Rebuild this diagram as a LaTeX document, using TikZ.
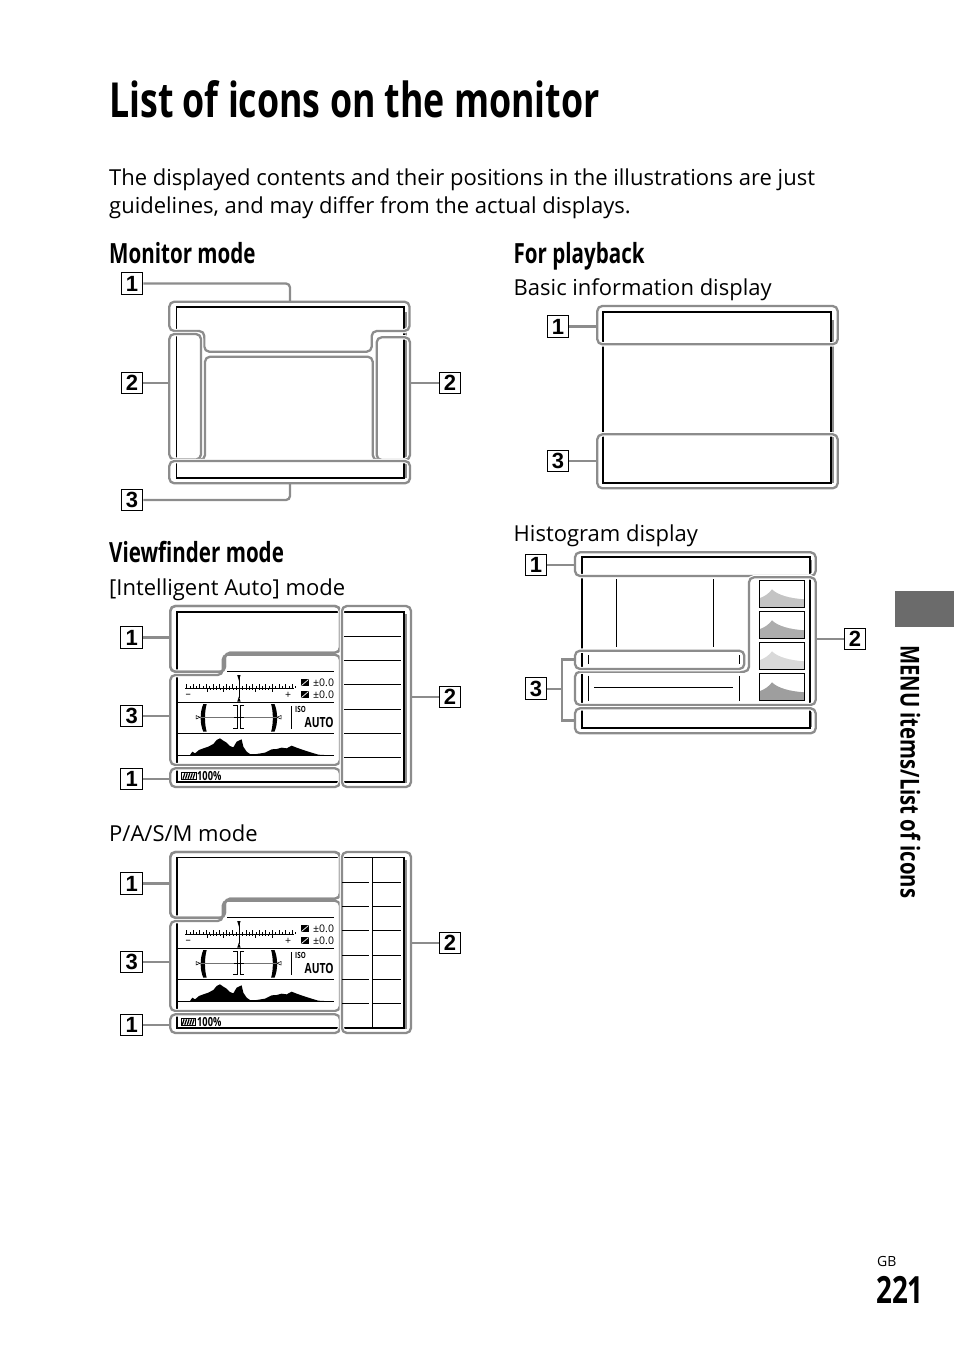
\documentclass[tikz,border=0pt]{standalone}
\usepackage{fontspec}
\setmainfont{Open Sans}
\newfontfamily\headfont[FakeStretch=0.74]{Open Sans}
\newfontfamily\sidefont[FakeStretch=0.78]{Open Sans}
\newfontfamily\labelfont{Liberation Sans}
\usetikzlibrary{calc}
\tikzset{
  numbox/.style={draw=black,line width=1pt,minimum size=21.5pt,inner sep=0pt,fill=white,font=\labelfont\bfseries\fontsize{22}{22}\selectfont},
  outlinebare/.style={draw=outlinegray,line width=2.3pt,rounded corners=5pt,line join=round},
  outline/.style={outlinebare,preaction={draw=white,line width=4.5pt}},
  connector/.style={draw=outlinegray,line width=2.3pt,rounded corners=4pt},
  frameline/.style={draw=black,line width=2pt},
  shadowline/.style={draw=shadowgray,line width=2pt},
  thinline/.style={draw=black,line width=1pt},
  titletext/.style={anchor=base west,inner sep=0pt,font=\headfont\bfseries\fontsize{48.3}{48.3}\selectfont},
  headtext/.style={anchor=base west,inner sep=0pt,font=\headfont\bfseries\fontsize{27.8}{27.8}\selectfont},
  bodytext/.style={anchor=base west,inner sep=0pt,font=\fontsize{22}{22}\selectfont},
  tinytext/.style={anchor=base west,inner sep=0pt,font=\fontsize{10.5}{10.5}\selectfont},
  tinybold/.style={anchor=base west,inner sep=0pt,font=\headfont\bfseries\fontsize{14}{14}\selectfont}
}
\newcommand{\finderpanel}{%
\draw[outline] (170.3,606) -- (340,606) -- (340,652.7) -- (225,652.7) -- (225,671.7) -- (170.3,671.7) -- cycle;
\draw[outline] (170.3,675) -- (222.7,675) -- (222.7,654.7) -- (340,654.7) -- (340,765) -- (170.3,765) -- cycle;
\draw[outlinebare] (170.3,606) -- (340,606) -- (340,652.7) -- (225,652.7) -- (225,671.7) -- (170.3,671.7) -- cycle;
\draw[outline] (170.3,768.3) rectangle (340,787);
\draw[outline] (341.9,606) rectangle (411,787);
\draw[thinline] (227.3,671.3) -- (334,671.3);
\draw[thinline] (177.7,702.3) -- (334,702.3);
\draw[thinline] (177.7,733) -- (334,733);
\draw[thinline] (177.7,755.3) -- (334,755.3);
\draw[line width=0.8pt] (185,688) -- (294,688);
\foreach \i in {-8,...,8} {
  \draw[line width=0.5pt] ({239.3+\i*6.6},688) -- ({239.3+\i*6.6},684);
  \draw[line width=0.5pt] ({242.6+\i*6.6},688) -- ({242.6+\i*6.6},686.2);
}
\foreach \i in {-10,...,10} {
  \draw[line width=0.5pt] ({239.3+\i*3.25},688) -- ({239.3+\i*3.25},690);
}
\foreach \i in {-10,-5,0,5,10} {
  \draw[line width=0.5pt] ({239.3+\i*3.25},688) -- ({239.3+\i*3.25},692);
}
\draw[line width=0.6pt] (238.9,678) -- (238.9,698);
\fill (237.2,675) -- (240.6,675) -- (238.9,680.5) -- cycle;
\fill (237.2,701.7) -- (240.6,701.7) -- (238.9,696.5) -- cycle;
\node[tinytext] (minussign) at (185.5,697.5) {--};
\node[tinytext] (plussign) at (285,698) {+};
\fill (301,679) rectangle (309,686);
\draw[white,line width=0.7pt] (301.5,685.5) -- (308.5,679.5);
\fill (301,691) rectangle (309,698);
\draw[white,line width=0.7pt] (301.5,697.5) -- (308.5,691.5);
\node[tinytext] (evone) at (313,686) {±0.0};
\node[tinytext] (evtwo) at (313,698.5) {±0.0};
\fill (203.3,704) .. controls (199.8,712) and (199.8,724) .. (203.3,731.7) -- (206.7,731.7) .. controls (204.4,724) and (204.4,712) .. (206.7,704) -- cycle;
\fill (274.5,704) .. controls (278,712) and (278,724) .. (274.5,731.7) -- (271.1,731.7) .. controls (273.4,724) and (273.4,712) .. (271.1,704) -- cycle;
\draw[draw=graphgray,line width=0.8pt] (199,717.3) -- (277,717.3);
\draw[line width=0.6pt] (233,705.5) -- (237.7,705.5) -- (237.7,728.5) -- (233,728.5);
\draw[line width=0.6pt] (244,705.5) -- (240.3,705.5) -- (240.3,728.5) -- (244,728.5);
\draw[line width=1.6pt] (233.5,717.3) -- (243.5,717.3);
\draw[line width=0.5pt,fill=white] (200,717.3) -- (196,715.5) -- (196,719) -- cycle;
\draw[line width=0.5pt,fill=white] (277,717.3) -- (281,715.5) -- (281,719) -- cycle;
\draw[thinline] (291.3,706) -- (291.3,729.3);
\node[anchor=base west,inner sep=0pt,font=\headfont\bfseries\fontsize{8.5}{8.5}\selectfont] (isolabel) at (295,712.7) {ISO};
\node[tinybold] (autolabel) at (304.5,727.2) {AUTO};
\fill[shift={(175,670)},x=0.3333pt,y=-0.3333pt] (42,256) -- (45,255) -- (52,245) -- (60,250) -- (72,240) -- (85,235) -- (100,230) -- (115,222) -- (125,210) -- (135,205) -- (145,212) -- (155,218) -- (165,228) -- (175,232) -- (185,215) -- (200,208) -- (205,230) -- (215,245) -- (225,252) -- (245,252) -- (270,248) -- (290,238) -- (305,237) -- (320,233) -- (335,235) -- (350,227) -- (365,233) -- (385,240) -- (410,248) -- (430,254) -- (465,256) -- cycle;
}
\begin{document}
\begin{tikzpicture}[line cap=butt,x=1pt,y=-1pt]
\definecolor{outlinegray}{rgb}{0.55,0.55,0.55}
\definecolor{shadowgray}{rgb}{0.55,0.55,0.55}
\definecolor{graphgray}{rgb}{0.45,0.45,0.45}
\definecolor{tabgray}{rgb}{0.42,0.42,0.42}
\definecolor{thumba}{rgb}{0.77,0.77,0.77}
\definecolor{thumbb}{rgb}{0.68,0.68,0.68}
\definecolor{thumbc}{rgb}{0.85,0.85,0.85}
\definecolor{thumbd}{rgb}{0.62,0.62,0.62}
\useasboundingbox (0,0) rectangle (954,1345);
\node[titletext] (title) at (109,117) {List of icons on the monitor};
\node[bodytext] (introa) at (109,185) {The displayed contents and their positions in the illustrations are just};
\node[bodytext] (introb) at (109,213) {guidelines, and may differ from the actual displays.};
\node[headtext] (monitorhead) at (109,263) {Monitor mode};
\node[headtext] (finderhead) at (109,562) {Viewfinder mode};
\node[headtext] (playhead) at (513.5,263) {For playback};
\node[bodytext] (autohead) at (109,595) {[Intelligent Auto] mode};
\node[bodytext] (pasmhead) at (109,841) {P/A/S/M mode};
\node[bodytext] (basichead) at (513.5,295) {Basic information display};
\node[bodytext] (histhead) at (513.5,541) {Histogram display};
%
\draw[shadowline] (405.8,312) -- (405.8,478);
\draw[frameline] (176.7,306.7) -- (404,306.7) -- (404,478) -- (176.7,478);
\draw[thinline] (176.7,306) -- (176.7,478.5);
\draw[outline] (169.3,301.7) -- (409.5,301.7) -- (409.5,331) -- (371.7,331) -- (371.7,351.7) -- (204.3,351.7) -- (204.3,331) -- (169.3,331) -- cycle;
\draw[outline] (169.3,334) rectangle (201,459.5);
\draw[outline] (376.7,337.3) rectangle (410,460);
\draw[outlinebare] (198,460) -- (205,460) -- (205,356.7) -- (372.7,356.7) -- (372.7,460) -- (380,460);
\draw[outline] (169.3,461) rectangle (410,483.3);
\node[numbox] (monone) at (132,283.5) {1};
\node[numbox] (montwoa) at (132,383) {2};
\node[numbox] (montwob) at (450,383) {2};
\node[numbox] (monthree) at (132,500) {3};
\coordinate (monoutlinea) at (290,301);
\coordinate (monoutlineb) at (169.3,383);
\coordinate (monoutlinec) at (410,383);
\coordinate (monoutlined) at (290,484);
\draw[connector] (monone.east) -| (monoutlinea);
\draw[connector] (montwoa.east) -- (monoutlineb);
\draw[connector] (montwob.west) -- (monoutlinec);
\draw[connector] (monthree.east) -| (monoutlined);
%
\draw[shadowline] (406.3,614) -- (406.3,783);
\draw[frameline] (176.7,611.7) -- (404.3,611.7) -- (404.3,781.7) -- (176.7,781.7) -- cycle;
\finderpanel
\foreach \y in {636,660.3,684.7,709,733,757} {
  \draw[thinline] (344.3,\y) -- (400.7,\y);
}
\draw[line width=0.6pt,fill=white] (181.7,772.7) rectangle (196,779.3);
\foreach \x in {183,185.5,188,190.5,193} {
  \draw[line width=1.2pt] (\x,778.7) -- (\x+1.8,773.3);
}
\node[tinybold,font=\headfont\bfseries\fontsize{12.5}{12.5}\selectfont] (autobatt) at (197,780.5) {100\%};
\node[numbox] (autoone) at (131.7,637.5) {1};
\node[numbox] (autothree) at (131.7,716) {3};
\node[numbox] (autofour) at (131.7,779) {1};
\node[numbox] (autotwo) at (450,697) {2};
\coordinate (autoa) at (170.3,637.5);
\coordinate (autob) at (170.3,716);
\coordinate (autoc) at (170.3,779);
\coordinate (autod) at (411,697);
\draw[connector] (autoone.east) -- (autoa);
\draw[connector] (autothree.east) -- (autob);
\draw[connector] (autofour.east) -- (autoc);
\draw[connector] (autotwo.west) -- (autod);
%
\begin{scope}[shift={(0,246)}]
\draw[shadowline] (406.3,614) -- (406.3,783);
\draw[thinline] (176.7,611.7) -- (404.3,611.7);
\draw[frameline] (404.3,611.2) -- (404.3,781.7) -- (176.7,781.7) -- (176.7,611.2);
\finderpanel
\draw[thinline] (372.7,612) -- (372.7,781);
\foreach \y in {636,660.3,684.7,709,733,757} {
  \draw[thinline] (342.3,\y) -- (369,\y);
  \draw[thinline] (373.3,\y) -- (400.7,\y);
}
\draw[line width=0.6pt,fill=white] (181,772.7) rectangle (195,779.3);
\foreach \x in {182.3,184.8,187.3,189.8,192.3} {
  \draw[line width=1.2pt] (\x,778.7) -- (\x+1.8,773.3);
}
\node[tinybold,font=\headfont\bfseries\fontsize{12.5}{12.5}\selectfont] (pasmbatt) at (197,780.5) {100\%};
\node[numbox] (pasmone) at (131.7,637.5) {1};
\node[numbox] (pasmthree) at (131.7,716) {3};
\node[numbox] (pasmfour) at (131.7,779) {1};
\node[numbox] (pasmtwo) at (450,697) {2};
\coordinate (pasma) at (170.3,637.5);
\coordinate (pasmb) at (170.3,716);
\coordinate (pasmc) at (170.3,779);
\coordinate (pasmd) at (411,697);
\draw[connector] (pasmone.east) -- (pasma);
\draw[connector] (pasmthree.east) -- (pasmb);
\draw[connector] (pasmfour.east) -- (pasmc);
\draw[connector] (pasmtwo.west) -- (pasmd);
\end{scope}
%
\draw[shadowline] (832.7,320) -- (832.7,483);
\draw[frameline] (603.3,312.3) rectangle (831,483.3);
\draw[outline] (597.3,306) rectangle (837.7,344.3);
\draw[outline] (597.3,434.3) rectangle (837.7,488.3);
\node[numbox] (basicone) at (558,326.5) {1};
\node[numbox] (basicthree) at (558,461) {3};
\coordinate (basica) at (597.3,326.5);
\coordinate (basicb) at (597.3,461);
\draw[connector] (basicone.east) -- (basica);
\draw[connector] (basicthree.east) -- (basicb);
%
\draw[shadowline] (811,560) -- (811,573);
\draw[shadowline] (811.3,712) -- (811.3,727);
\draw[frameline] (581.7,557.3) rectangle (809.5,727.7);
\draw[thinline] (616,579) -- (616,647.3);
\draw[thinline] (713.3,579) -- (713.3,647.3);
\draw[outline] (575,552.3) rectangle (815.7,576);
\draw[outline] (749,577.3) -- (815.7,577.3) -- (815.7,705) -- (575,705) -- (575,671.7) -- (749,671.7) -- cycle;
\draw[outline] (575,650.7) rectangle (744.3,669);
\draw[outline] (575,708.3) rectangle (815.7,733.3);
\draw[frameline] (581.7,655) -- (581.7,664);
\draw[thinline] (588.3,655) -- (588.3,664);
\draw[thinline] (739.3,655) -- (739.3,664);
\draw[thinline] (588.3,675.7) -- (588.3,701);
\draw[thinline] (739.3,675.7) -- (739.3,701);
\draw[thinline] (594,687) -- (733.3,687);
\foreach \y/\c in {580.3/thumba,611.3/thumbb,642.3/thumbc,673.3/thumbd} {
  \fill[\c] (759.3,\y+18) .. controls (765,\y+16) and (769,\y+13) .. (772,\y+9) .. controls (778,\y+15) and (790,\y+18) .. (804.3,\y+19) -- (804.3,\y+27) -- (759.3,\y+27) -- cycle;
  \draw[line width=0.9pt] (759.3,\y) rectangle (804.3,\y+27);
}
\node[numbox] (histone) at (536,565) {1};
\node[numbox] (histtwo) at (855,639) {2};
\node[numbox] (histthree) at (536,688.7) {3};
\coordinate (hista) at (575,565);
\coordinate (histb) at (815.7,639);
\coordinate (histc) at (575,659.5);
\coordinate (histd) at (575,720.5);
\coordinate (histe) at (561.7,688.7);
\draw[connector] (histone.east) -- (hista);
\draw[connector] (histtwo.west) -- (histb);
\draw[connector] (histthree.east) -- (histe);
\draw[connector,rounded corners=0pt] (histc) -| (histe) |- (histd);
%
\fill[tabgray] (895,591) rectangle (954,627);
\node[anchor=base west,rotate=-90,inner sep=0pt,font=\sidefont\bfseries\fontsize{26}{26}\selectfont] (sidetext) at (900.7,645) {MENU items/List of icons};
\node[anchor=base west,inner sep=0pt,font=\fontsize{14}{14}\selectfont] (gblabel) at (877,1266) {GB};
\node[anchor=base west,inner sep=0pt,font=\headfont\bfseries\fontsize{37.5}{37.5}\selectfont] (pagenum) at (876,1303) {221};
\end{tikzpicture}
\end{document}
